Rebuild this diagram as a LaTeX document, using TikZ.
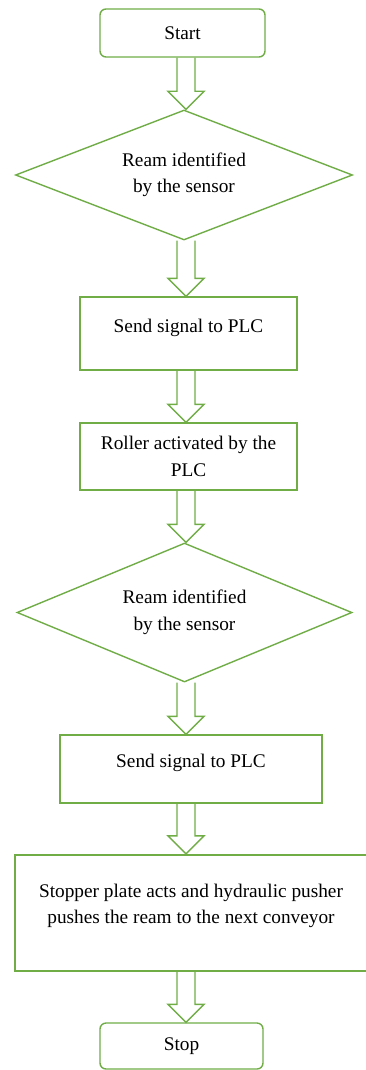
\documentclass[tikz,border=0pt]{standalone}
\usepackage{fontspec}
\setmainfont{Liberation Serif}
\usetikzlibrary{shapes.geometric,calc}
\definecolor{flowgreen}{HTML}{70AD47}
\tikzset{
  base/.style={draw=flowgreen, line width=1.4pt, fill=white, inner sep=0pt,
    font=\fontsize{19.3}{26.5}\selectfont, align=center, text=black},
  terminal/.style={base, rectangle, rounded corners=6pt},
  stepbox/.style={base, rectangle},
  decision/.style={base, diamond, aspect=2.6},
  barrow/.style={draw=flowgreen, line width=1.4pt, line join=miter}
}
% hollow block arrow from the bottom of #1 to the top of #2
\newcommand\blockarrow[2]{%
  \draw[barrow] ($(ax |- #1.south)+(-9,0)$) -- ($(ax |- #2.north)+(-9,-18)$)
    -- ($(ax |- #2.north)+(-18,-18)$) -- (ax |- #2.north)
    -- ($(ax |- #2.north)+(18,-18)$) -- ($(ax |- #2.north)+(9,-18)$)
    -- ($(ax |- #1.south)+(9,0)$);}
\begin{document}
\begin{tikzpicture}[x=1pt,y=-1pt]
\useasboundingbox (0,0) rectangle (366,1070);
\coordinate (ax) at (186,0);

\node[terminal, minimum width=165pt, minimum height=48pt] (start) at (182.5,33) {Start};
\node[decision, minimum width=337pt, minimum height=130pt] (d1) at (184,175)
  {Ream identified\\by the sensor};
\node[stepbox, minimum width=217pt, minimum height=73pt, text depth=16pt] (b1) at (188.5,333.5)
  {Send signal to PLC};
\node[stepbox, minimum width=217pt, minimum height=67pt] (b2) at (188.5,456.5)
  {Roller activated by the\\PLC};
\node[decision, minimum width=335pt, minimum height=139pt] (d2) at (184.5,612.5)
  {Ream identified\\by the sensor};
\node[stepbox, minimum width=262pt, minimum height=68pt, text depth=17pt] (b3) at (191,769)
  {Send signal to PLC};
\node[stepbox, line width=2.2pt, minimum width=352pt, minimum height=116pt, text depth=18pt] (b4) at (191,913)
  {Stopper plate acts and hydraulic pusher\\pushes the ream to the next conveyor};
\node[terminal, minimum width=163pt, minimum height=46pt] (stop) at (181.5,1046) {Stop};

\blockarrow{start}{d1}
\blockarrow{d1}{b1}
\blockarrow{b1}{b2}
\blockarrow{b2}{d2}
\blockarrow{d2}{b3}
\blockarrow{b3}{b4}
\blockarrow{b4}{stop}
\end{tikzpicture}
\end{document}
